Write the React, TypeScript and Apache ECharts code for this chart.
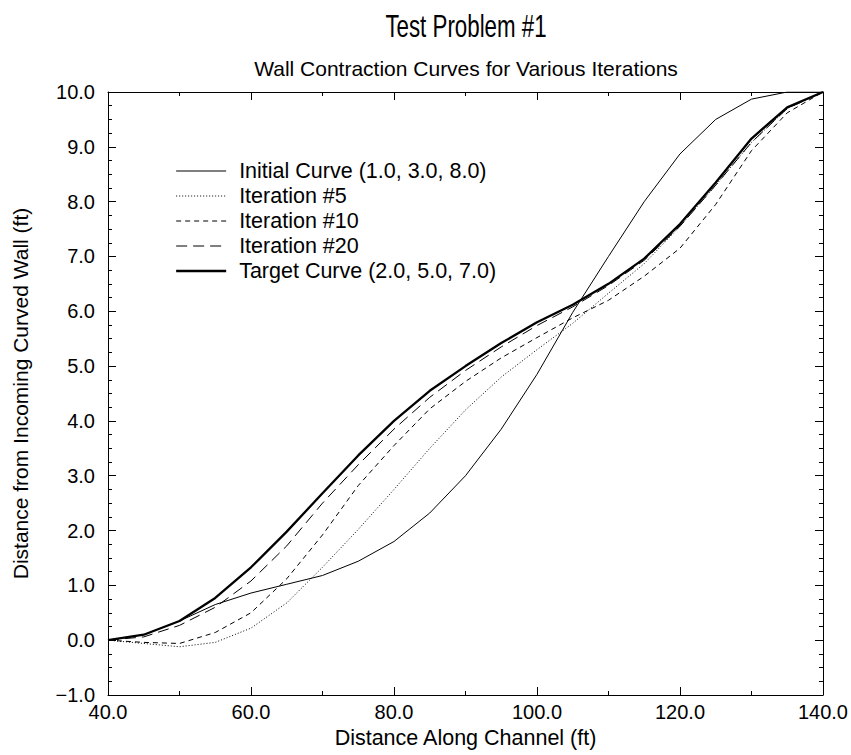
import React, { useEffect, useRef } from "react";
import * as echarts from "echarts";

const distance = [40, 45, 50, 55, 60, 65, 70, 75, 80, 85, 90, 95, 100, 105, 110, 115, 120, 125, 130, 135, 140];
const initialCurve = [0, 0.1, 0.35, 0.65, 0.86, 1.02, 1.18, 1.44, 1.8, 2.32, 3.0, 3.85, 4.85, 5.98, 7.0, 8.0, 8.87, 9.5, 9.87, 10.0, 10.0];
const iteration5 = [0, -0.06, -0.12, -0.04, 0.22, 0.68, 1.33, 2.02, 2.75, 3.5, 4.2, 4.8, 5.3, 5.78, 6.33, 6.87, 7.55, 8.3, 9.08, 9.7, 10.0];
const iteration10 = [0, -0.04, -0.06, 0.14, 0.5, 1.12, 1.92, 2.82, 3.55, 4.22, 4.72, 5.15, 5.52, 5.88, 6.2, 6.64, 7.15, 7.95, 8.93, 9.62, 10.0];
const iteration20 = [0, 0.06, 0.27, 0.6, 1.08, 1.72, 2.5, 3.2, 3.85, 4.43, 4.92, 5.35, 5.74, 6.08, 6.47, 6.93, 7.55, 8.3, 9.08, 9.7, 10.0];
const targetCurve = [0, 0.1, 0.35, 0.77, 1.33, 1.98, 2.68, 3.37, 4.0, 4.55, 5.0, 5.42, 5.8, 6.12, 6.5, 6.96, 7.59, 8.35, 9.15, 9.72, 10.0];

const seriesNames = [
  "Initial Curve (1.0, 3.0, 8.0)",
  "Iteration #5",
  "Iteration #10",
  "Iteration #20",
  "Target Curve (2.0, 5.0, 7.0)",
];

const FONT = "'Liberation Sans', Arial, Helvetica, sans-serif";
const fmt = (v: number) => v.toFixed(1).replace("-", "\u2212");

export default function App() {
  const ref = useRef<HTMLDivElement>(null);
  useEffect(() => {
    if (!ref.current) return;
    const chart = echarts.init(ref.current, null, { renderer: "svg" });
    const pairs = (ys: number[]) => distance.map((x, i) => [x, ys[i]]);
    const axisLine = { show: true, onZero: false, lineStyle: { color: "#000", width: 1 } };
    const xCommon = {
      type: "value" as const,
      min: 40,
      max: 140,
      interval: 20,
      axisLine,
      axisTick: { show: true, inside: true, length: 8, lineStyle: { color: "#000" } },
      minorTick: { show: true, splitNumber: 2, length: 4, lineStyle: { color: "#000" } },
      splitLine: { show: false },
      minorSplitLine: { show: false },
    };
    const yCommon = {
      type: "value" as const,
      min: -1,
      max: 10,
      interval: 1,
      axisLine,
      axisTick: { show: true, inside: true, length: 8, lineStyle: { color: "#000" } },
      minorTick: { show: true, splitNumber: 4, length: 4, lineStyle: { color: "#000" } },
      splitLine: { show: false },
      minorSplitLine: { show: false },
    };
    const styles: any[] = [
      { width: 1, type: "solid" },
      { width: 1, type: [1, 2] },
      { width: 1, type: [5, 4] },
      { width: 1, type: [11, 6] },
      { width: 2.3, type: "solid" },
    ];
    const datas = [initialCurve, iteration5, iteration10, iteration20, targetCurve];
    chart.setOption({
      animation: false,
      backgroundColor: "#fff",
      textStyle: { fontFamily: FONT, color: "#000" },
      grid: { left: 108, right: 28, top: 92, bottom: 60, containLabel: false },
      graphic: [
        {
          type: "text",
          x: 466,
          y: 27,
          scaleX: 0.72,
          style: { text: "Test Problem #1", font: `31px ${FONT}`, fill: "#000", textAlign: "center", textVerticalAlign: "middle" },
        },
        {
          type: "text",
          x: 466,
          y: 68,
          style: { text: "Wall Contraction Curves for Various Iterations", font: `21px ${FONT}`, fill: "#000", textAlign: "center", textVerticalAlign: "middle" },
        },
      ],
      legend: {
        orient: "vertical",
        left: 175,
        top: 160,
        itemWidth: 50,
        itemHeight: 14,
        itemGap: 3,
        padding: 0,
        data: seriesNames.map((n, i) => ({
          name: n,
          itemStyle: { opacity: 0 },
          lineStyle: { color: "#000", width: styles[i].width, type: styles[i].type },
        })),
        textStyle: { fontSize: 21.5, color: "#000", fontFamily: FONT, padding: [0, 0, 0, 8], lineHeight: 21 },
      },
      xAxis: [
        {
          ...xCommon,
          position: "bottom",
          name: "Distance Along Channel (ft)",
          nameLocation: "middle",
          nameGap: 32,
          nameTextStyle: { fontSize: 21.5, color: "#000", fontFamily: FONT },
          axisLabel: { show: true, formatter: fmt, fontSize: 20, color: "#000", margin: 7, fontFamily: FONT },
        },
        { ...xCommon, position: "top", axisLabel: { show: false } },
      ],
      yAxis: [
        {
          ...yCommon,
          position: "left",
          name: "Distance from Incoming Curved Wall (ft)",
          nameLocation: "middle",
          nameGap: 77,
          nameTextStyle: { fontSize: 21, color: "#000", fontFamily: FONT },
          axisLabel: { show: true, formatter: fmt, fontSize: 20, color: "#000", margin: 13, fontFamily: FONT },
        },
        { ...yCommon, position: "right", axisLabel: { show: false } },
      ],
      series: datas.map((d, i) => ({
        name: seriesNames[i],
        type: "line",
        xAxisIndex: 0,
        yAxisIndex: 0,
        data: pairs(d),
        showSymbol: false,
        symbol: "none",
        smooth: false,
        color: "#000",
        lineStyle: { color: "#000", ...styles[i] },
        z: i === 4 ? 5 : 3,
      })),
    });
    return () => chart.dispose();
  }, []);
  return <div ref={ref} style={{ position: "fixed", left: 0, top: 0, width: 851, height: 755 }} />;
}
